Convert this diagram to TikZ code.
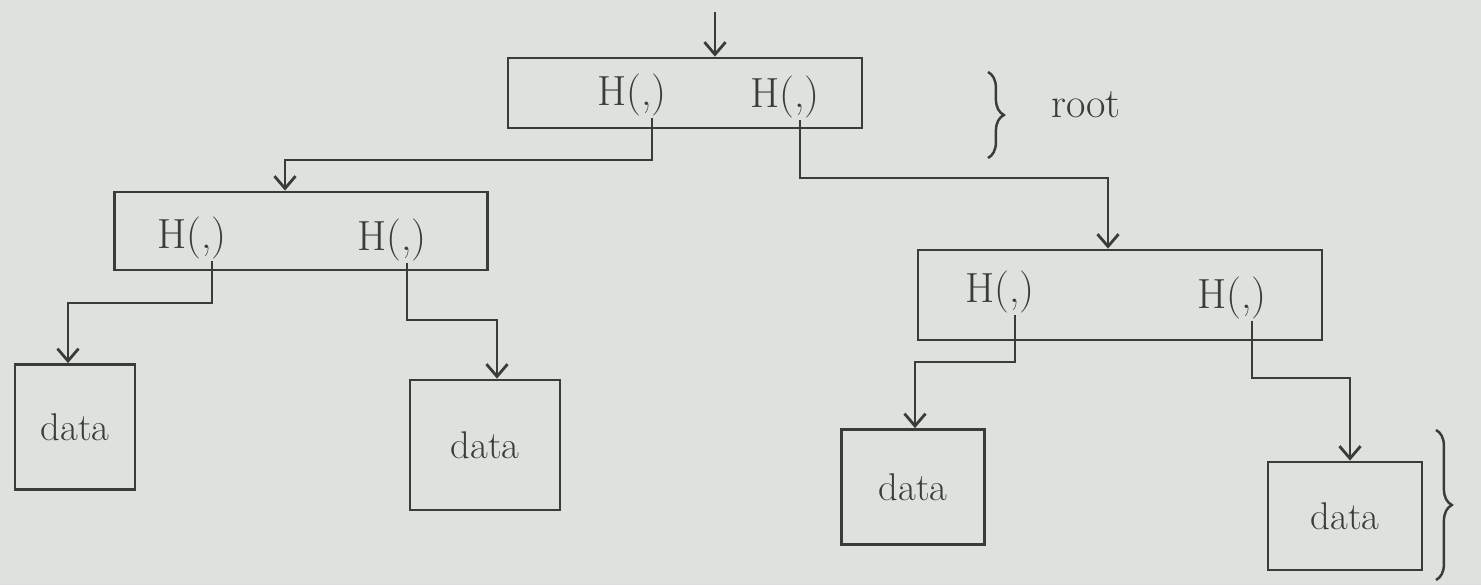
\documentclass[tikz,border=0pt]{standalone}
\usetikzlibrary{arrows.meta,decorations.pathreplacing,calc}
\definecolor{paper}{HTML}{DDE2DD}
\definecolor{ink}{HTML}{3A3C3A}
\begin{document}
\begin{tikzpicture}[x=0.02cm,y=-0.02cm,
  every node/.style={text=ink},
  box/.style={draw=ink,line width=1.6pt,inner sep=0pt},
  hash/.style={font=\fontsize{24}{28}\selectfont,inner sep=1pt},
  datatxt/.style={font=\fontsize{22}{26}\selectfont},
  conn/.style={draw=ink,line width=1.6pt},
  arr/.style={conn,-{Straight Barb[length=7pt,width=12pt,line width=1.6pt]}},
  brc/.style={draw=ink,line width=1.4pt,decorate,decoration={brace,amplitude=9pt}}]
\fill[paper] (0,0) rectangle (1481,585);
\useasboundingbox (0,0) rectangle (1481,585);

% boxes
\node[box,minimum width=7.08cm,minimum height=1.4cm] (root) at (685,93) {};
\node[box,minimum width=7.46cm,minimum height=1.56cm] (L) at (301,231) {};
\node[box,minimum width=8.08cm,minimum height=1.8cm] (R) at (1120,295) {};
\node[box,datatxt,minimum width=2.4cm,minimum height=2.5cm] (D1) at (75,427) {data};
\node[box,datatxt,minimum width=3.0cm,minimum height=2.6cm] (D2) at (485,445) {data};
\node[box,datatxt,minimum width=2.86cm,minimum height=2.3cm] (D3) at (913,487) {data};
\node[box,datatxt,minimum width=3.08cm,minimum height=2.16cm] (D4) at (1345,516) {data};

% hash labels
\node[hash] (rA) at (632,95) {H(,)};
\node[hash] (rB) at (785,97) {H(,)};
\node[hash] (lA) at (192,238) {H(,)};
\node[hash] (lB) at (392,240) {H(,)};
\node[hash] (qA) at (1000,292) {H(,)};
\node[hash] (qB) at (1232,298) {H(,)};

% incoming arrow
\coordinate (in) at (715,12);
\draw[arr] (in) -- (in |- root.north);

% turning points
\coordinate (t1) at (285,160);
\coordinate (t2) at (1108,178);
\coordinate (t3) at (68,303);
\coordinate (t4) at (497,320);
\coordinate (t5) at (915,362);
\coordinate (t6) at (1350,378);

\draw[arr] ([xshift=0.4cm]rA.south) |- (t1) -- (t1 |- L.north);
\draw[arr] ([xshift=0.3cm]rB.south) |- (t2) -- (t2 |- R.north);
\draw[arr] ([xshift=0.4cm]lA.south) |- (t3) -- (t3 |- D1.north);
\draw[arr] ([xshift=0.3cm]lB.south) |- (t4) -- (t4 |- D2.north);
\draw[arr] ([xshift=0.3cm]qA.south) |- (t5) -- (t5 |- D3.north);
\draw[arr] ([xshift=0.4cm]qB.south) |- (t6) -- (t6 |- D4.north);

% braces and label
\draw[brc] (988,72) -- (988,158);
\node[font=\fontsize{24}{28}\selectfont,anchor=west] (rootlbl) at (1045,105) {root};
\draw[brc] (1436,430) -- (1436,580);
\end{tikzpicture}
\end{document}
